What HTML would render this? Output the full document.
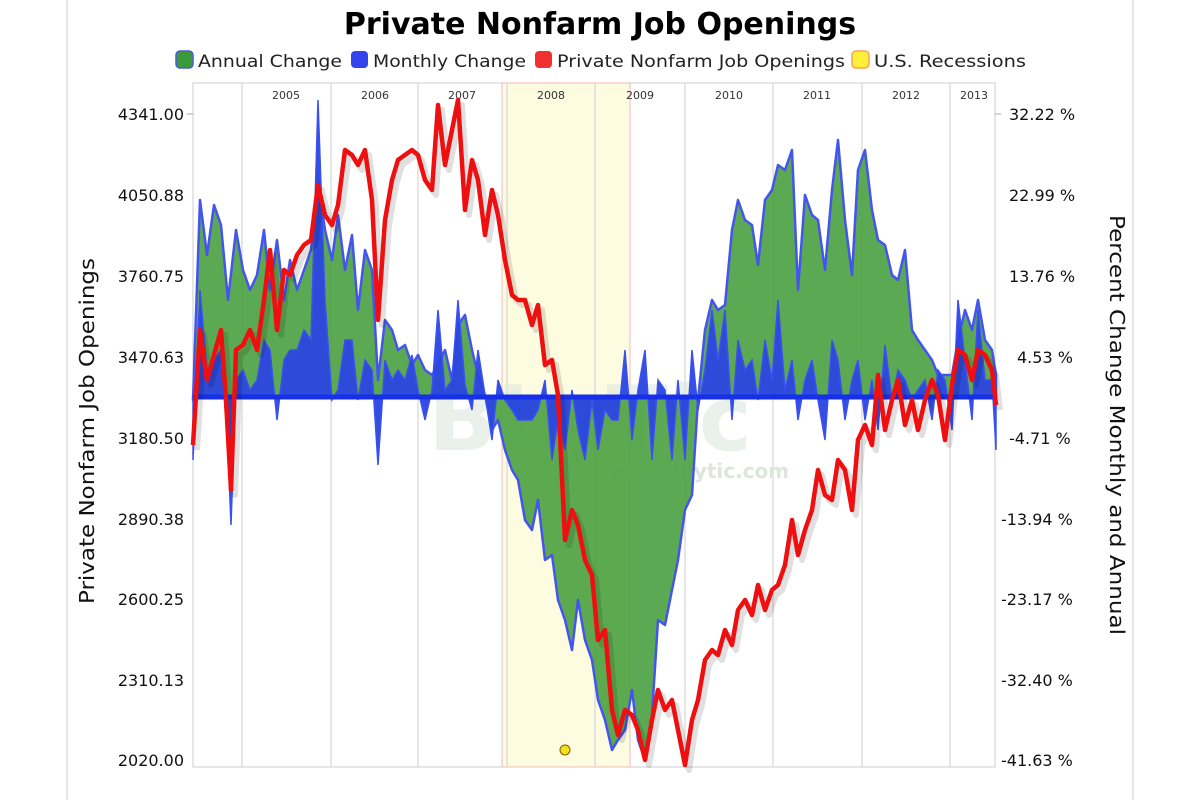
<!DOCTYPE html>
<html><head><meta charset="utf-8"><style>
html,body{margin:0;padding:0;background:#fff;width:1200px;height:800px;overflow:hidden}
svg{display:block}
text{font-family:"DejaVu Sans","Liberation Sans",sans-serif}
</style></head><body>
<svg width="1200" height="800" xmlns="http://www.w3.org/2000/svg">
<line x1="67" y1="0" x2="67" y2="800" stroke="#ccc"/>
<line x1="1133" y1="0" x2="1133" y2="800" stroke="#ccc"/>
<text x="600" y="34" text-anchor="middle" font-size="30" font-weight="bold" fill="#000">Private Nonfarm Job Openings</text>
<g font-size="17" fill="#222">
<rect x="176" y="51" width="17" height="17" rx="4" fill="#3a9a3a" stroke="#4a5ae0" stroke-width="1.5"/><text x="198" y="67" textLength="144" lengthAdjust="spacingAndGlyphs">Annual Change</text>
<rect x="351" y="51" width="17" height="17" rx="4" fill="#3344ee"/><text x="373" y="67" textLength="153" lengthAdjust="spacingAndGlyphs">Monthly Change</text>
<rect x="535" y="51" width="17" height="17" rx="4" fill="#f03030"/><text x="557" y="67" textLength="288" lengthAdjust="spacingAndGlyphs">Private Nonfarm Job Openings</text>
<rect x="852" y="51" width="17" height="17" rx="4" fill="#fff03a" stroke="#f8a060" stroke-width="1.5"/><text x="874" y="67" textLength="152" lengthAdjust="spacingAndGlyphs">U.S. Recessions</text>
</g>
<rect x="193" y="83" width="802" height="684" fill="#fff" stroke="#ccc"/>
<rect x="502" y="83" width="128" height="684" fill="#fdfbe0" stroke="#f4b8b8"/>
<g stroke="#ddd" stroke-width="1.5">
<line x1="242" y1="83" x2="242" y2="767"/><line x1="331" y1="83" x2="331" y2="767"/><line x1="418" y1="83" x2="418" y2="767"/><line x1="507" y1="83" x2="507" y2="767"/><line x1="595" y1="83" x2="595" y2="767"/><line x1="685" y1="83" x2="685" y2="767"/><line x1="773" y1="83" x2="773" y2="767"/><line x1="862" y1="83" x2="862" y2="767"/><line x1="950" y1="83" x2="950" y2="767"/>
</g>
<g font-size="11" fill="#333" text-anchor="middle">
<text x="286" y="99">2005</text><text x="375" y="99">2006</text><text x="462" y="99">2007</text><text x="551" y="99">2008</text><text x="640" y="99">2009</text><text x="729" y="99">2010</text><text x="817" y="99">2011</text><text x="906" y="99">2012</text><text x="974" y="99">2013</text>
</g>
<text x="590" y="450" text-anchor="middle" font-size="90" font-weight="bold" fill="#dde9dd" opacity="0.6">BLyTic</text>
<text x="700" y="478" text-anchor="middle" font-size="20" font-weight="bold" fill="#dde6dd">www.blytic.com</text>
<polygon fill="#4aa040" fill-opacity="0.9" stroke="#4455ee" stroke-width="2.5" stroke-linejoin="round" points="193,397 193,400 200,200 207,255 214,205 221,225 228,300 236,230 243,270 250,290 257,275 264,230 270,290 277,240 284,300 290,260 297,290 304,270 311,250 318,180 325,230 332,260 338,215 345,270 352,235 358,310 365,250 372,270 378,380 385,320 392,330 398,350 405,345 412,365 418,355 425,370 432,375 438,365 445,350 452,380 458,325 465,315 472,350 478,375 485,395 492,430 498,420 505,450 512,470 518,480 525,520 532,530 538,500 545,560 552,555 558,600 565,620 572,650 578,600 585,640 592,660 598,700 605,720 612,750 618,740 625,730 632,690 638,740 645,760 652,715 658,620 665,625 672,590 678,560 685,510 692,495 698,400 705,330 712,300 718,310 725,305 732,230 738,200 745,220 752,225 758,265 765,200 772,190 778,165 785,170 792,150 798,290 805,195 812,215 818,220 825,270 832,190 838,140 845,220 852,275 858,170 865,150 872,210 878,240 885,245 892,275 898,280 905,250 912,330 918,340 925,350 932,360 938,375 945,375 952,375 958,340 965,310 972,330 978,300 985,340 992,350 996,375 996,397"/>
<polygon fill="#2a45e0" fill-opacity="0.95" stroke="#3a50f0" stroke-width="1.5" points="193,397 193,460 200,290 207,370 214,360 221,350 228,450 231,525 236,380 243,370 250,390 257,380 264,340 270,350 277,420 284,360 290,350 297,350 304,330 311,340 318,100 325,300 332,400 338,390 345,340 352,340 358,400 365,360 372,370 378,465 385,360 392,380 398,370 405,380 412,355 418,390 425,420 432,390 438,310 445,390 452,380 458,300 465,385 472,410 478,350 485,395 492,440 498,380 505,400 512,410 518,420 525,420 532,420 538,410 545,380 552,460 558,420 565,450 572,390 578,430 585,460 592,400 598,450 605,410 612,420 618,420 625,350 632,440 638,390 645,350 652,460 658,380 665,390 672,460 678,380 685,460 692,350 698,410 705,370 712,310 718,360 725,310 732,420 738,340 745,370 752,360 758,400 765,340 772,380 778,300 785,390 792,360 798,420 805,380 812,360 818,400 825,440 832,340 838,360 845,420 852,380 858,360 865,420 872,380 878,430 885,345 892,400 898,370 905,380 912,400 918,390 925,380 932,420 938,370 945,380 952,430 958,300 965,360 972,420 978,310 985,380 992,380 996,450 996,397"/>
<line x1="193" y1="397" x2="996" y2="397" stroke="#1530e8" stroke-width="5"/>
<polyline fill="none" stroke="#000" stroke-opacity="0.12" stroke-width="6" transform="translate(4,5)" stroke-linejoin="round" points="193,445 200,330 207,380 214,355 221,330 226,400 231,490 236,350 243,345 250,330 257,350 264,300 270,250 277,330 284,270 290,275 297,255 304,245 311,240 318,185 325,215 332,225 338,205 345,150 352,155 358,165 365,150 372,200 378,320 385,220 392,180 398,160 405,155 412,150 418,155 425,180 432,190 438,105 445,165 452,130 458,100 465,210 472,160 478,180 485,235 492,190 498,215 505,260 512,295 518,300 525,300 532,325 538,305 545,365 552,360 558,395 565,540 572,510 578,525 585,560 592,575 598,640 605,630 612,710 618,735 625,710 632,715 638,730 645,760 652,720 658,690 665,710 672,700 678,730 685,765 692,720 698,700 705,660 712,650 718,655 725,630 732,645 738,610 745,600 752,615 758,585 765,610 772,590 778,585 785,565 792,520 798,555 805,530 812,510 818,470 825,495 832,500 838,460 845,470 852,510 858,440 865,425 872,445 878,375 885,430 892,400 898,380 905,425 912,400 918,430 925,400 932,380 938,395 945,440 952,385 958,350 965,355 972,380 978,350 985,355 992,370 996,405"/>
<polyline fill="none" stroke="#ee1010" stroke-width="4.5" stroke-linejoin="round" points="193,445 200,330 207,380 214,355 221,330 226,400 231,490 236,350 243,345 250,330 257,350 264,300 270,250 277,330 284,270 290,275 297,255 304,245 311,240 318,185 325,215 332,225 338,205 345,150 352,155 358,165 365,150 372,200 378,320 385,220 392,180 398,160 405,155 412,150 418,155 425,180 432,190 438,105 445,165 452,130 458,100 465,210 472,160 478,180 485,235 492,190 498,215 505,260 512,295 518,300 525,300 532,325 538,305 545,365 552,360 558,395 565,540 572,510 578,525 585,560 592,575 598,640 605,630 612,710 618,735 625,710 632,715 638,730 645,760 652,720 658,690 665,710 672,700 678,730 685,765 692,720 698,700 705,660 712,650 718,655 725,630 732,645 738,610 745,600 752,615 758,585 765,610 772,590 778,585 785,565 792,520 798,555 805,530 812,510 818,470 825,495 832,500 838,460 845,470 852,510 858,440 865,425 872,445 878,375 885,430 892,400 898,380 905,425 912,400 918,430 925,400 932,380 938,395 945,440 952,385 958,350 965,355 972,380 978,350 985,355 992,370 996,405"/>
<circle cx="565" cy="750" r="5" fill="#f5e020" stroke="#806000"/>
<g font-size="16" fill="#111" text-anchor="end">
<text x="184" y="120">4341.00</text><text x="184" y="201">4050.88</text><text x="184" y="282">3760.75</text><text x="184" y="363">3470.63</text><text x="184" y="444">3180.50</text><text x="184" y="525">2890.38</text><text x="184" y="605">2600.25</text><text x="184" y="686">2310.13</text><text x="184" y="766">2020.00</text>
</g>
<g font-size="16" fill="#111">
<text x="1009" y="120">32.22 %</text><text x="1009" y="201">22.99 %</text><text x="1009" y="282">13.76 %</text><text x="1017" y="363">4.53 %</text><text x="1009" y="444">-4.71 %</text><text x="1001" y="525">-13.94 %</text><text x="1001" y="605">-23.17 %</text><text x="1001" y="686">-32.40 %</text><text x="1001" y="766">-41.63 %</text>
</g>
<g stroke="#aaa"><line x1="187" y1="114" x2="193" y2="114"/><line x1="995" y1="114" x2="1001" y2="114"/></g>
<text transform="translate(94,431) rotate(-90)" text-anchor="middle" font-size="20" fill="#111" textLength="346" lengthAdjust="spacingAndGlyphs">Private Nonfarm Job Openings</text>
<text transform="translate(1110,425) rotate(90)" text-anchor="middle" font-size="20" fill="#111" textLength="420" lengthAdjust="spacingAndGlyphs">Percent Change Monthly and Annual</text>
</svg>
</body></html>
